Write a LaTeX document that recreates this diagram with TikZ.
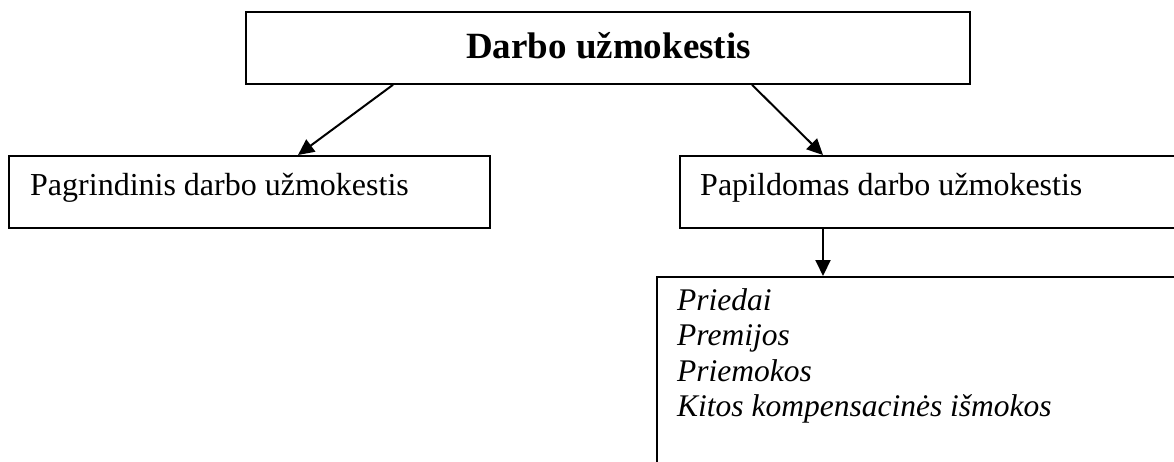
\documentclass[tikz,border=0pt]{standalone}
\usepackage{fontspec}
\setmainfont{Liberation Serif}
\usetikzlibrary{arrows.meta,calc}
\tikzset{
  boxnode/.style={draw=black, line width=1.8pt, rectangle, anchor=north west, inner sep=0pt},
  txt/.style={anchor=base west, inner sep=0pt, font=\fontsize{32pt}{35.3pt}\selectfont},
  conn/.style={line width=2pt, -{Triangle[length=16pt,width=15pt]}}
}
\begin{document}
\begin{tikzpicture}[x=1pt,y=1pt]
\useasboundingbox (0,0) rectangle (1174,-461);
\clip (0,0) rectangle (1174,-461);
% boxes
\node[boxnode, minimum width=724pt, minimum height=72pt] (top) at (245,-11) {};
\node[boxnode, minimum width=481pt, minimum height=72pt] (left) at (8,-155) {};
\node[boxnode, minimum width=540pt, minimum height=72pt] (right) at (679,-155) {};
\node[boxnode, minimum width=560pt, minimum height=240pt] (list) at (656,-276) {};
% texts
\node[txt, font=\fontsize{37pt}{40pt}\selectfont\bfseries] (ttop) at (466,-58) {Darbo užmokestis};
\node[txt] (tleft) at (30,-195) {Pagrindinis darbo užmokestis};
\node[txt] (tright) at (700,-195) {Papildomas darbo užmokestis};
\node[txt, anchor=north west, align=left, font=\fontsize{31.5pt}{35.5pt}\selectfont\itshape] (tlist) at (677,-288) {Priedai\\Premijos\\Priemokos\\Kitos kompensacinės išmokos};
% connectors
\draw[conn] ($(top.south west)+(148,0)$) -- ($(left.north west)+(290,0)$);
\draw[conn] ($(top.south west)+(507,0)$) -- ($(right.north west)+(144,0)$);
\draw[conn] ($(right.south west)+(144,0)$) -- ($(list.north west)+(167,0)$);
\end{tikzpicture}
\end{document}
